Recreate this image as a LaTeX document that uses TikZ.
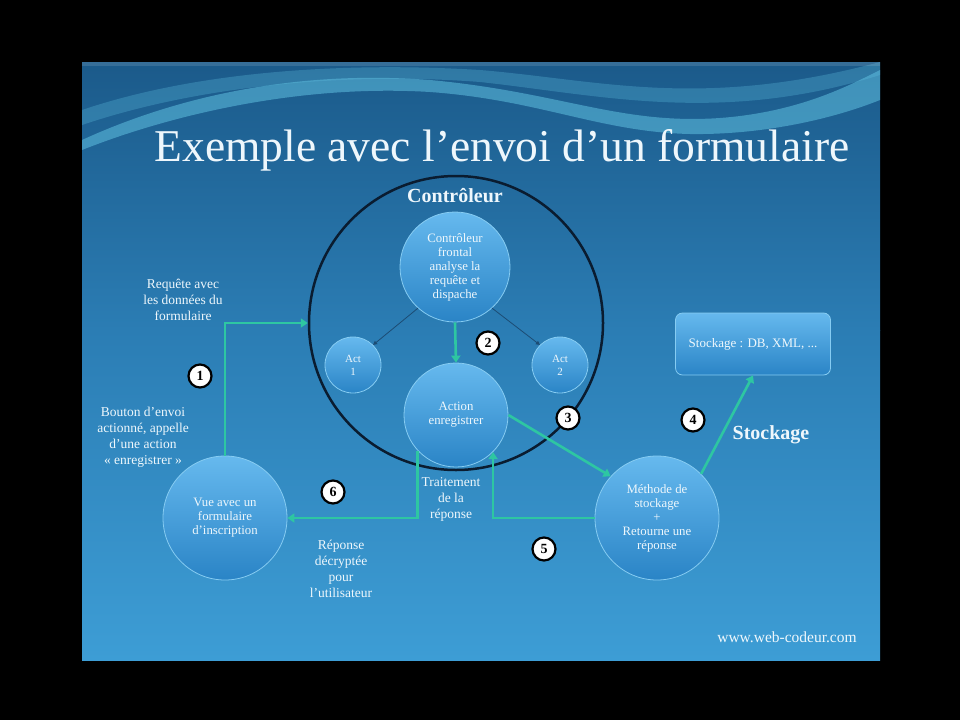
\documentclass[tikz,border=0pt]{standalone}
\usepackage{fontspec}
\setmainfont{Liberation Serif}
\usetikzlibrary{arrows.meta,shapes.misc}
\definecolor{slidetop}{HTML}{1B5A8A}
\definecolor{slidemid}{HTML}{2B7DB4}
\definecolor{slidebot}{HTML}{3D9DD5}
\definecolor{wavec}{HTML}{5FC0E0}
\definecolor{bubtop}{HTML}{66B9EE}
\definecolor{bubbot}{HTML}{2A84C6}
\definecolor{bubedge}{HTML}{86CCF2}
\definecolor{flowc}{HTML}{2EC6A2}
\definecolor{ringc}{HTML}{0A1C30}
\definecolor{txtc}{HTML}{EEF7FC}
\definecolor{thinc}{HTML}{1C4C74}
\tikzset{
  bubble/.style={circle, draw=bubedge, line width=0.8pt, top color=bubtop, bottom color=bubbot,
    text=txtc, align=center, inner sep=0pt, font=\fontsize{12.8}{14}\selectfont},
  flow/.style={draw=flowc, line width=2.6pt, -{Triangle[width=9pt,length=7pt]}},
  thinline/.style={draw=thinc, line width=0.8pt, -{Triangle[width=4pt,length=4pt]}},
  num/.style={circle, fill=white, draw=black, line width=2.2pt, minimum size=23pt, inner sep=0pt,
    font=\fontsize{14}{14}\selectfont\bfseries, text=black},
  lbl/.style={text=txtc, align=center, font=\fontsize{13.5}{16}\selectfont, inner sep=0pt},
}
\begin{document}
\begin{tikzpicture}[x=1pt,y=-1pt]
\fill[black] (0,0) rectangle (960,720);
\useasboundingbox (0,0) rectangle (960,720);
% slide
\begin{scope}
\clip (82,62) rectangle (880,660);
\shade[top color=slidetop, bottom color=slidemid] (82,62) rectangle (880,330);
\shade[top color=slidemid, bottom color=slidebot] (82,330) rectangle (880,660);
% waves
\fill[wavec, opacity=0.55] (82,140) .. controls (180,95) and (300,70) .. (430,80)
  .. controls (560,92) and (620,125) .. (720,118) .. controls (800,112) and (850,85) .. (880,70)
  -- (880,100) .. controls (830,120) and (760,135) .. (690,134)
  .. controls (600,132) and (540,100) .. (430,92) .. controls (300,84) and (170,115) .. (82,150) -- cycle;
\fill[wavec, opacity=0.3] (82,110) .. controls (200,70) and (350,62) .. (480,70)
  .. controls (600,80) and (700,110) .. (880,62) -- (880,75)
  .. controls (720,125) and (600,95) .. (480,82) .. controls (350,72) and (200,85) .. (82,125) -- cycle;
\fill[white, opacity=0.12] (82,62) rectangle (880,66);
\end{scope}
% title
\node[text=txtc, font=\fontsize{45.5}{46}\selectfont, inner sep=0pt] (title) at (502,150) {Exemple avec l’envoi d’un formulaire};
% controller ring
\node[circle, draw=ringc, line width=2.5pt, minimum size=294pt, inner sep=0pt] (ctrl) at (456,323) {};
\node[text=txtc, font=\fontsize{20}{20}\selectfont\bfseries, inner sep=0pt] (ctrllbl) at (455,196) {Contrôleur};
% bubbles
\node[bubble, minimum size=110pt] (front) at (455,267) {Contrôleur\\frontal\\analyse la\\requête et\\dispache};
\node[bubble, minimum size=56pt, font=\fontsize{11}{13}\selectfont] (act1) at (353,365) {Act\\1};
\node[bubble, minimum size=56pt, font=\fontsize{11}{13}\selectfont] (act2) at (560,365) {Act\\2};
\node[bubble, minimum size=104pt] (action) at (456,415) {Action\\enregistrer};
\node[bubble, minimum size=124pt] (vue) at (225,518) {Vue avec un\\formulaire\\d’inscription};
\node[bubble, minimum size=124pt] (meth) at (657,518) {Méthode de\\stockage\\+\\Retourne une\\réponse};
\node[rounded corners=7pt, draw=bubedge, line width=0.8pt, top color=bubtop, bottom color=bubbot,
  minimum width=155pt, minimum height=62pt, text=txtc, font=\fontsize{13}{14}\selectfont] (stock) at (753,344) {Stockage : DB, XML, ...};
% connectors
\draw[thinline] (front.228) -- (act1.45);
\draw[thinline] (front.-48) -- (act2.135);
\draw[flow] (front.south) -- (action.north);
\draw[flow] (vue.north) |- (ctrl.west);
\draw[flow] (action.east) -- (meth.138);
\draw[flow] (meth.45) -- (stock.south);
\draw[flow] (meth.west) -| (action.315);
\draw[flow] (action.223) |- (vue.east);
% numbers
\node[num] (n1) at (200,376) {1};
\node[num] (n2) at (488,343) {2};
\node[num] (n3) at (568,418) {3};
\node[num] (n4) at (693,420) {4};
\node[num] (n5) at (544,549) {5};
\node[num] (n6) at (333,492) {6};
% labels
\node[lbl] (l1) at (183,300) {Requête avec\\les données du\\formulaire};
\node[lbl] (l2) at (143,437) {Bouton d’envoi\\actionné, appelle\\d’une action\\« enregistrer »};
\node[lbl] (l3) at (451,499) {Traitement\\de la\\réponse};
\node[lbl] (l4) at (341,569) {Réponse\\décryptée\\pour\\l’utilisateur};
\node[text=txtc, font=\fontsize{20}{20}\selectfont\bfseries, inner sep=0pt] (l5) at (771,435) {Stockage};
\node[text=txtc, font=\fontsize{15.5}{16}\selectfont, inner sep=0pt] (web) at (787,637) {www.web-codeur.com};
\end{tikzpicture}
\end{document}
